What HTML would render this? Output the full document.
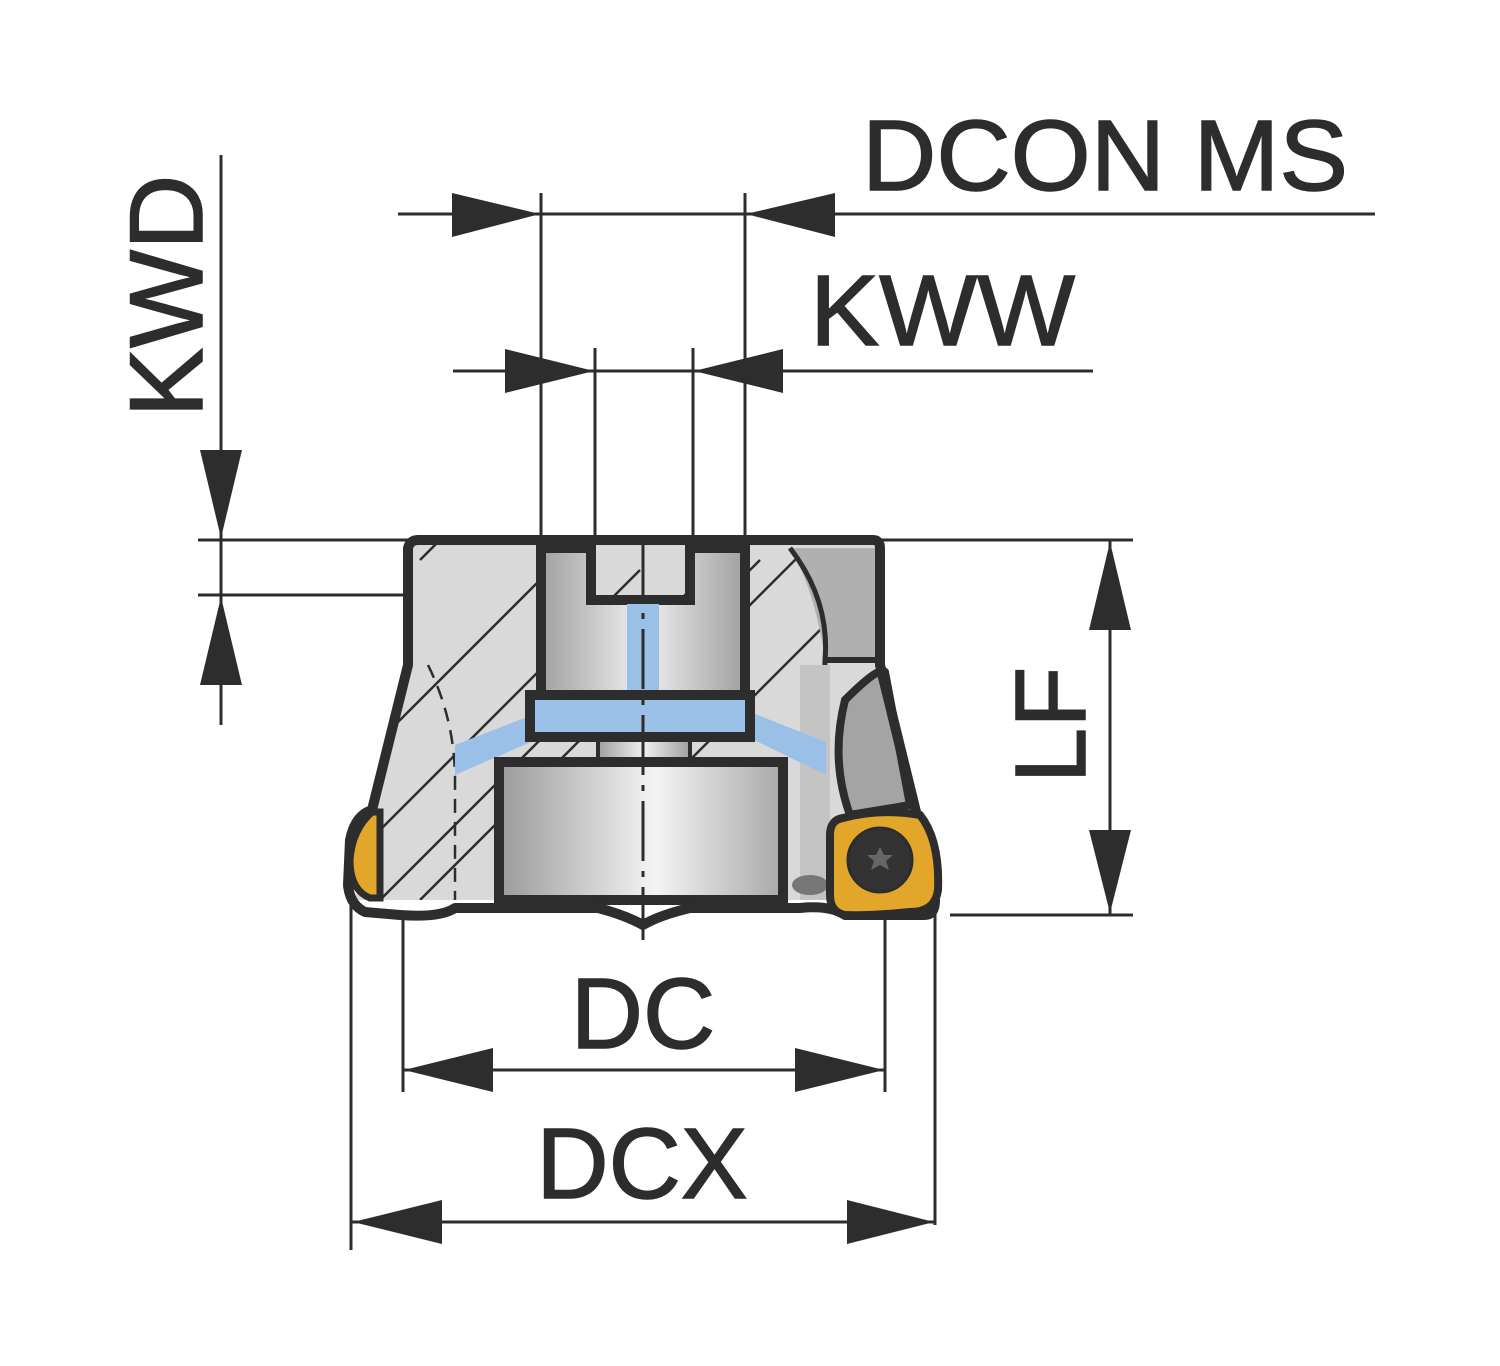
<!DOCTYPE html>
<html><head><style>html,body{margin:0;padding:0;background:#fff}svg{display:block}</style></head>
<body>
<svg width="1500" height="1366" viewBox="0 0 1500 1366" xmlns="http://www.w3.org/2000/svg" font-family="Liberation Sans, Arial, sans-serif">
<defs>
<linearGradient id="cyl" x1="0" x2="1" y1="0" y2="0">
<stop offset="0" stop-color="#9a9a9a"/><stop offset="0.55" stop-color="#f4f4f4"/><stop offset="1" stop-color="#a8a8a8"/>
</linearGradient>
<linearGradient id="cyl2" x1="0" x2="1">
<stop offset="0" stop-color="#a0a0a0"/><stop offset="0.5" stop-color="#f0f0f0"/><stop offset="1" stop-color="#a0a0a0"/>
</linearGradient>
<clipPath id="bodyclip"><path d="M412,540 L880,540 L880,665 L918,820 L935,900 L355,900 L372,820 L408,665 Z"/></clipPath>
</defs>
<g stroke="#2d2d2d" fill="none" stroke-width="3">
<line x1="398" y1="214" x2="1375" y2="214"/>
<line x1="541" y1="193" x2="541" y2="540"/>
<line x1="745" y1="193" x2="745" y2="540"/>
<line x1="453" y1="371" x2="1093" y2="371"/>
<line x1="595" y1="348" x2="595" y2="590"/>
<line x1="693" y1="348" x2="693" y2="590"/>
<line x1="221" y1="155" x2="221" y2="725"/>
<line x1="198" y1="540" x2="412" y2="540"/>
<line x1="198" y1="595" x2="412" y2="595"/>
<line x1="1110" y1="540" x2="1110" y2="915"/>
<line x1="870" y1="540" x2="1133" y2="540"/>
<line x1="950" y1="915" x2="1133" y2="915"/>
<line x1="403" y1="1070" x2="885" y2="1070"/>
<line x1="403" y1="918" x2="403" y2="1092"/>
<line x1="885" y1="918" x2="885" y2="1092"/>
<line x1="352" y1="1222" x2="935" y2="1222"/>
<line x1="351" y1="905" x2="351" y2="1250"/>
<line x1="935" y1="905" x2="935" y2="1225"/>
</g>
<g fill="#2d2d2d">
<polygon points="540,214 452,193 452,237"/>
<polygon points="746,214 835,193 835,237"/>
<polygon points="594,371 505,349 505,393"/>
<polygon points="694,371 783,349 783,393"/>
<polygon points="221,538 200,450 242,450"/>
<polygon points="221,597 200,685 242,685"/>
<polygon points="1110,542 1089,630 1131,630"/>
<polygon points="1110,913 1089,830 1131,830"/>
<polygon points="404,1070 493,1048 493,1092"/>
<polygon points="884,1070 795,1048 795,1092"/>
<polygon points="353,1222 442,1200 442,1244"/>
<polygon points="934,1222 847,1200 847,1244"/>
</g>
<path d="M412,540 L880,540 L880,665 L918,820 L935,900 L355,900 L372,820 L408,665 Z" fill="#d9d9d9"/>
<g clip-path="url(#bodyclip)" stroke="#2d2d2d" stroke-width="2.5">
<line x1="380" y1="740" x2="590" y2="530"/>
<line x1="380" y1="830" x2="640" y2="570"/>
<line x1="380" y1="900" x2="690" y2="590"/>
<line x1="420" y1="560" x2="450" y2="530"/>
<line x1="420" y1="900" x2="760" y2="560"/>
<line x1="690" y1="760" x2="830" y2="620"/>
<line x1="745" y1="610" x2="800" y2="555"/>
</g>
<path d="M790,548 L878,548 L878,660 L825,660 Q815,590 790,548 Z" fill="#b0b0b0"/>
<path d="M790,548 Q830,600 825,660 L820,900" fill="none" stroke="#2d2d2d" stroke-width="5"/>
<path d="M825,660 L878,660" stroke="#2d2d2d" stroke-width="6"/>
<path d="M800,665 L830,665 L830,900 L800,900 Z" fill="#c4c4c4"/>
<path d="M845,700 Q880,665 885,672 L910,805 L850,815 Q830,760 845,700 Z" fill="#a4a4a4" stroke="#2d2d2d" stroke-width="8"/>
<path d="M428,665 Q455,720 455,780 L455,900" fill="none" stroke="#2d2d2d" stroke-width="2.5" stroke-dasharray="14,9"/>
<path d="M455,745 L540,712 L540,738 L455,775 Z" fill="#9ac0e8"/>
<path d="M750,712 L826,742 L826,775 L750,738 Z" fill="#9ac0e8"/>
<path d="M541,548 L591,548 L591,600 L690,600 L690,548 L745,548 L745,700 L541,700 Z" fill="url(#cyl2)" stroke="#2d2d2d" stroke-width="10"/>
<rect x="627" y="604" width="32" height="92" fill="#9ac0e8"/>
<rect x="530" y="695" width="220" height="42" fill="#9ac0e8" stroke="#2d2d2d" stroke-width="10"/>
<rect x="598" y="740" width="92" height="20" fill="url(#cyl2)" stroke="#2d2d2d" stroke-width="4"/>
<rect x="499" y="762" width="284" height="138" fill="url(#cyl)" stroke="#2d2d2d" stroke-width="10"/>
<line x1="643" y1="543" x2="643" y2="940" stroke="#2d2d2d" stroke-width="3" stroke-dasharray="60,10,6,10"/>
<path d="M418,540 L873,540 Q880,540 880,548 L880,665 L918,820 L935,900 Q935,915 925,915 L845,915 Q830,905 800,908 L690,908 Q660,915 643,925 Q625,915 598,908 L455,908 Q440,918 400,915 L365,912 Q350,905 348,885 L350,840 Q355,815 372,810 L408,665 L408,548 Q410,540 418,540 Z" fill="none" stroke="#2d2d2d" stroke-width="10" stroke-linejoin="round"/>
<path d="M372,812 Q352,830 350,860 Q350,890 370,898 L380,898 L380,812 Z" fill="#e2a62a" stroke="#2d2d2d" stroke-width="7"/>
<ellipse cx="810" cy="885" rx="18" ry="10" fill="#777" />
<path d="M843,818 Q880,808 920,815 Q940,840 938,890 Q935,912 910,912 Q870,916 845,915 Q830,912 830,895 L830,835 Q830,820 843,818 Z" fill="#e2a62a" stroke="#2d2d2d" stroke-width="8"/>
<circle cx="880" cy="860" r="32" fill="#333" stroke="#2d2d2d" stroke-width="3"/>
<polygon points="880,847 884,855 893,855 886,861 889,870 880,865 871,870 874,861 867,855 876,855" fill="#666"/>
<g fill="#2d2d2d" stroke="#2d2d2d" stroke-width="1.5" font-size="100">
<text x="862" y="190" textLength="486" lengthAdjust="spacingAndGlyphs">DCON MS</text>
<text x="810" y="345" textLength="265" lengthAdjust="spacingAndGlyphs">KWW</text>
<text x="643" y="1048" text-anchor="middle">DC</text>
<text x="642" y="1198" text-anchor="middle">DCX</text>
<text transform="translate(202,296) rotate(-90)" text-anchor="middle" font-size="104">KWD</text>
<text transform="translate(1085,725) rotate(-90)" text-anchor="middle">LF</text>
</g>
</svg>
</body></html>
